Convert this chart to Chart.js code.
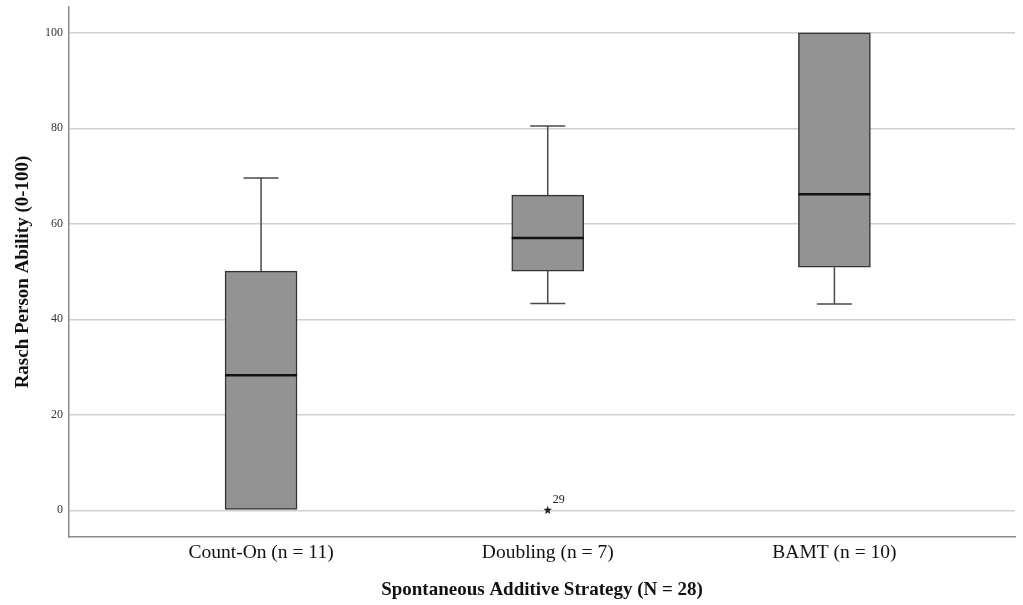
<!DOCTYPE html>
<html>
<head>
<meta charset="utf-8">
<script src="https://cdn.jsdelivr.net/npm/chart.js@4.4.1/dist/chart.umd.min.js"></script>
<style>
  html, body { margin: 0; padding: 0; background: #fff; }
  #wrap { width: 1023px; height: 605px; position: relative; }
</style>
</head>
<body>
<div id="wrap"><canvas id="boxChart"></canvas></div>
<script>
// strategy groups and their box plot summaries
const categories = ['Count-On (n = 11)', 'Doubling (n = 7)', 'BAMT (n = 10)'];
const whiskerLow = [0, 43.3, 43.2];
const quartile1 = [0, 50.1, 50.9];
const median = [28.3, 57.0, 66.2];
const quartile3 = [50.1, 66.0, 100];
const whiskerHigh = [69.6, 80.5, 100];

// extreme value (SPSS star) with its case number
const outlierGroup = [1];
const outlierValue = [0];
const outlierCase = ['29'];

const yTicks = [0, 20, 40, 60, 80, 100];

const serif = "'Liberation Serif', 'Times New Roman', serif";

const boxExtras = {
    id: 'boxExtras',
    afterDatasetsDraw(chart) {
        const c = chart.ctx;
        const xs = chart.scales.x;
        const ys = chart.scales.y;
        const half = 36;
        const cap = 17.5;
        c.save();
        categories.forEach((cat, i) => {
            const x = xs.getPixelForValue(i);
            // whiskers
            c.strokeStyle = '#4a4a4a';
            c.lineWidth = 1.5;
            c.beginPath();
            if (whiskerHigh[i] > quartile3[i]) {
                const top = ys.getPixelForValue(whiskerHigh[i]);
                c.moveTo(x, ys.getPixelForValue(quartile3[i]));
                c.lineTo(x, top);
                c.moveTo(x - cap, top);
                c.lineTo(x + cap, top);
            }
            if (whiskerLow[i] < quartile1[i]) {
                const bot = ys.getPixelForValue(whiskerLow[i]);
                c.moveTo(x, ys.getPixelForValue(quartile1[i]));
                c.lineTo(x, bot);
                c.moveTo(x - cap, bot);
                c.lineTo(x + cap, bot);
            }
            c.stroke();
            // median
            c.strokeStyle = '#111';
            c.lineWidth = 2.5;
            c.beginPath();
            const m = ys.getPixelForValue(median[i]);
            c.moveTo(x - half, m);
            c.lineTo(x + half, m);
            c.stroke();
        });
        // extremes
        outlierGroup.forEach((g, k) => {
            const x = xs.getPixelForValue(g);
            const y = ys.getPixelForValue(outlierValue[k]);
            c.fillStyle = '#222';
            c.beginPath();
            const R = 4.5, r = 1.9;
            for (let j = 0; j < 10; j++) {
                const rad = j % 2 === 0 ? R : r;
                const a = -Math.PI / 2 + j * Math.PI / 5;
                const px = x + rad * Math.cos(a);
                const py = y + rad * Math.sin(a);
                if (j === 0) c.moveTo(px, py); else c.lineTo(px, py);
            }
            c.closePath();
            c.fill();
            c.font = '12px ' + serif;
            c.textAlign = 'left';
            c.textBaseline = 'alphabetic';
            c.fillText(outlierCase[k], x + 5, y - 7);
        });
        c.restore();
    }
};

new Chart(document.getElementById('boxChart'), {
    type: 'bar',
    data: {
        datasets: [{
            label: 'IQR',
            data: categories.map((cat, i) => ({ x: i, y: [quartile1[i], quartile3[i]] })),
            backgroundColor: '#939393',
            borderColor: '#333',
            borderWidth: 1.5,
            borderSkipped: false,
            barThickness: 72
        }]
    },
    options: {
        responsive: true,
        maintainAspectRatio: false,
        animation: false,
        layout: { padding: { top: 7, right: 8, left: 0, bottom: 0 } },
        plugins: {
            legend: { display: false },
            tooltip: { enabled: false }
        },
        scales: {
            x: {
                type: 'linear',
                offset: false,
                min: -0.67,
                max: 2.63,
                afterBuildTicks: (s) => { s.ticks = categories.map((c, i) => ({ value: i })); },
                afterFit: (s) => { s.height = 68; s.paddingLeft = 0; s.paddingRight = 0; },
                ticks: {
                    callback: (v) => categories[v],
                    color: '#111',
                    font: { family: serif, size: 19.5 },
                    padding: 4,
                    maxRotation: 0,
                    autoSkip: false
                },
                grid: { display: false, drawTicks: false },
                border: { color: '#8a8a8a', width: 1.5 },
                title: {
                    display: true,
                    text: 'Spontaneous Additive Strategy (N = 28)',
                    color: '#111',
                    font: { family: serif, size: 19, weight: 'bold' },
                    padding: { top: 0, bottom: 4 }
                }
            },
            y: {
                min: -5.6,
                max: 105.4,
                afterBuildTicks: (s) => { s.ticks = yTicks.map(v => ({ value: v })); },
                afterFit: (s) => { s.width = 69; s.paddingTop = 0; s.paddingBottom = 0; },
                ticks: {
                    color: '#333',
                    font: { family: serif, size: 12 },
                    padding: 6
                },
                grid: { color: '#cfcfcf', lineWidth: 1.5, drawTicks: false },
                border: { color: '#8a8a8a', width: 1.5 },
                title: {
                    display: true,
                    text: 'Rasch Person Ability (0-100)',
                    color: '#111',
                    font: { family: serif, size: 19, weight: 'bold' },
                    padding: { top: 12, bottom: 0 }
                }
            }
        }
    },
    plugins: [boxExtras]
});
</script>
</body>
</html>
